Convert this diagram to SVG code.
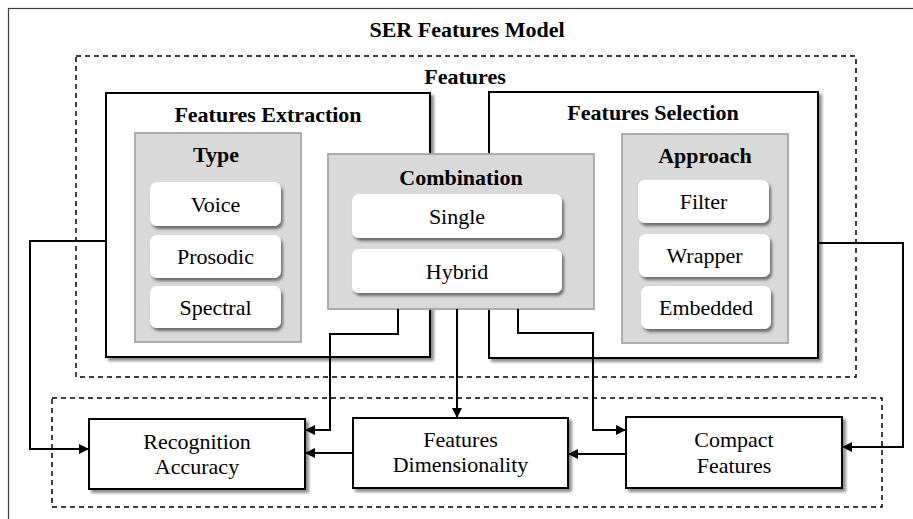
<svg xmlns="http://www.w3.org/2000/svg" width="913" height="519" viewBox="0 0 913 519">
  <defs>
    <filter id="shadow" x="-10%" y="-10%" width="125%" height="130%">
      <feDropShadow dx="3" dy="3" stdDeviation="1.8" flood-color="#000" flood-opacity="0.45"/>
    </filter>
    <filter id="softshadow" x="-10%" y="-10%" width="125%" height="140%">
      <feDropShadow dx="2" dy="3" stdDeviation="1.5" flood-color="#000" flood-opacity="0.5"/>
    </filter>
    <marker id="arrow" markerUnits="userSpaceOnUse" markerWidth="11" markerHeight="10" refX="10" refY="5" orient="auto">
      <path d="M0,0 L10,5 L0,10 z" fill="#000"/>
    </marker>
    <style>
      text { font-size: 22px; fill: #000; text-anchor: middle; }
      .title { font-weight: bold; }
      .frame { fill: none; stroke: #404040; stroke-width: 1.2; }
      .dashed { fill: none; stroke: #000; stroke-width: 1.5; stroke-dasharray: 5 4; }
      .box { fill: #fff; stroke: #000; stroke-width: 2; filter: url(#shadow); }
      .panel { fill: #d9d9d9; stroke: #a6a6a6; stroke-width: 1.8; }
      .item { fill: #fff; stroke: none; filter: url(#softshadow); }
      .conn path { fill: none; stroke: #000; stroke-width: 2; marker-end: url(#arrow); }
    </style>
  </defs>

  <rect width="913" height="519" fill="#fff"/>

  <g font-family="'Liberation Serif', 'DejaVu Serif', serif">
  <!-- outer model frame -->
  <g id="ser-model">
    <rect class="frame" x="8.5" y="8.5" width="920" height="530"/>
    <text class="title" x="467" y="37">SER Features Model</text>
  </g>

  <!-- features group -->
  <g id="features">
    <rect class="dashed" x="76" y="56" width="780" height="321"/>
    <text class="title" x="465" y="84">Features</text>
  </g>

  <!-- outcomes group -->
  <g id="outcomes">
    <rect class="dashed" x="52" y="398" width="830" height="109"/>
  </g>

  <g id="features-extraction">
    <rect class="box" x="106" y="93" width="324" height="264"/>
    <text class="title" x="268" y="122">Features Extraction</text>
  </g>

  <g id="features-selection">
    <rect class="box" x="489" y="92" width="329" height="266"/>
    <text class="title" x="653" y="120">Features Selection</text>
  </g>

  <g id="type">
    <rect class="panel" x="135" y="133" width="166" height="209"/>
    <text class="title" x="216" y="162">Type</text>
    <g id="voice">
      <rect class="item" x="150" y="182" width="131" height="44" rx="7"/>
      <text x="215.5" y="212">Voice</text>
    </g>
    <g id="prosodic">
      <rect class="item" x="150" y="235" width="131" height="43" rx="7"/>
      <text x="215.5" y="264">Prosodic</text>
    </g>
    <g id="spectral">
      <rect class="item" x="150" y="286" width="131" height="42" rx="7"/>
      <text x="215.5" y="315">Spectral</text>
    </g>
  </g>

  <g id="combination">
    <rect class="panel" x="328" y="154" width="266" height="155"/>
    <text class="title" x="461" y="185">Combination</text>
    <g id="single">
      <rect class="item" x="352" y="194" width="210" height="44" rx="7"/>
      <text x="457" y="224">Single</text>
    </g>
    <g id="hybrid">
      <rect class="item" x="352" y="249" width="210" height="44" rx="7"/>
      <text x="457" y="279">Hybrid</text>
    </g>
  </g>

  <g id="approach">
    <rect class="panel" x="622" y="134" width="166" height="209"/>
    <text class="title" x="705" y="163">Approach</text>
    <g id="filter">
      <rect class="item" x="638" y="180" width="131" height="43" rx="7"/>
      <text x="703.5" y="209">Filter</text>
    </g>
    <g id="wrapper">
      <rect class="item" x="639" y="234" width="131" height="43" rx="7"/>
      <text x="704.5" y="263">Wrapper</text>
    </g>
    <g id="embedded">
      <rect class="item" x="641" y="286" width="130" height="43" rx="7"/>
      <text x="706" y="315">Embedded</text>
    </g>
  </g>

  <g id="recognition-accuracy">
    <rect class="box" x="89" y="419" width="216" height="70"/>
    <text x="197" y="449">Recognition</text>
    <text x="197" y="474">Accuracy</text>
  </g>

  <g id="features-dimensionality">
    <rect class="box" x="353" y="418" width="215" height="70"/>
    <text x="460.5" y="447">Features</text>
    <text x="460.5" y="472">Dimensionality</text>
  </g>

  <g id="compact-features">
    <rect class="box" x="626" y="417" width="216" height="71"/>
    <text x="734" y="447">Compact</text>
    <text x="734" y="473">Features</text>
  </g>
  </g>

  <!-- connectors -->
  <g id="connectors" class="conn">
    <path d="M106,241 H30 V449 H89"/>
    <path d="M398,309 V334 H330 V430 H305"/>
    <path d="M457,309 V418"/>
    <path d="M518,309 V333 H593 V430 H626"/>
    <path d="M818,243 H903 V447 H842"/>
    <path d="M626,454 H568"/>
    <path d="M353,453 H305"/>
  </g>
</svg>
